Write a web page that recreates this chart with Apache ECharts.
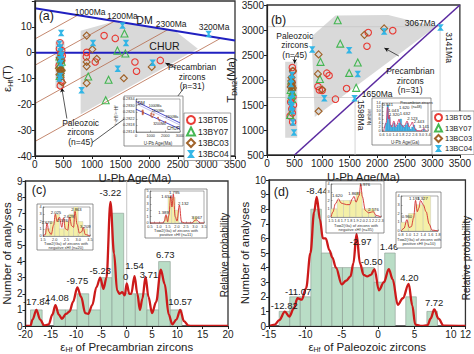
<!DOCTYPE html>
<html><head><meta charset="utf-8">
<script src="https://cdn.jsdelivr.net/npm/echarts@6/dist/echarts.min.js"></script>
<style>html,body{margin:0;padding:0;background:#fff}#c{width:474px;height:354px}</style>
</head><body><div id="c"></div>
<script>
// ---------------- DATA ----------------
// Panel (a): eHf(T) vs U-Pb age
const a_BT05 = [[440,3.8],[430,1.5],[455,-0.5],[470,0.8],[480,-1.2],[445,-12.8],[460,-11],[425,-5],[470,-3],
  [1211,6.6],[1406,5.5],[906,0.1],[900,-1.6],[1056,-3.6],[1750,-3.6],[1778,-7.2],[2194,-3.0]];
const a_BY07 = [[430,-1.5],[450,-2.5],[440,-4.5],[460,-5.8],[435,-9],[445,-7.5],[470,-3.5],
  [1567,7.4],[1444,0.8],[1583,-0.3],[933,-9.2],[1289,-10.5],[1239,-18.4]];
const a_BC03 = [[420,-6],[440,-7],[455,-8],[430,-8.5],[445,-6.5],[470,-6.8],[460,-3],[480,-11.5],[435,-2],[450,-9.5],
  [906,6.6],[1006,1.3],[1083,-2.4],[906,-3.6],[906,-5.3],[906,-11.8],[1556,-9.9],[2044,-5.5]];
const a_BC04 = [[460,7.6],[430,3.5],[445,2],[450,0.5],[465,-1],[440,-2.5],[455,-4],[430,-10],[445,-9],[470,-0.8],
  [1017,3.7],[1533,10.5],[1594,3.7],[1450,-6.2],[2061,-3.9],[817,-14.5],[3039,7.2]];
const a_DM = [[0,17.2],[3500,4.7]];
const a_CHUR = [[0,0],[3500,0]];
const a_evo = [[[0,5.3],[750,14.5]],[[0,-4.9],[1393,12.2]],[[0,-19.7],[2325,8.9]],[[0,-34.4],[3251,5.6]]];
const a_modelAges = ['1000Ma','1200Ma','2300Ma','3200Ma'];
const a_preZone = [[800,8.5],[1400,12.2],[2450,8.45],[2850,1.5],[800,-23.8]];
const a_paleoZone = [[360,4.3],[520,4.3],[520,-13.7],[360,-13.7]];

// Panel (b): TDM2 vs U-Pb age
const b_BT05 = [[460,2250],[470,2180],[455,1950],[440,1900],[470,1660],[430,1560],[480,1500],[450,1420],[460,1340],[420,1280],[465,1160],
  [1837,2948],[2282,2987],[1814,2675],[1086,2136],[1127,2090],[925,1870],[950,1800],[1000,1790],[1242,1616],[1444,1830]];
const b_BY07 = [[440,1990],[450,1860],[430,1800],[460,1760],[445,1700],[420,1300],[455,1620],
  [1283,3195],[1329,2727],[971,2363],[1491,2142],[1647,2350],[1618,1843],[960,2020]];
const b_BC03 = [[470,2180],[440,1980],[455,1880],[430,1860],[460,1800],[450,1950],[445,2050],[470,1840],
  [936,2512],[924,2122],[1768,2903],[2126,3032],[936,1375],[1000,1810]];
const b_BC04 = [[455,2100],[440,2020],[460,1720],[430,1600],[450,1480],[445,1450],[465,1380],[470,1150],[490,950],[435,1920],
  [820,2610],[1491,2597],[1647,2122],[1040,1635],[1589,1635],[2126,2968],[3148,3052]];
const b_oneToOne = [[500,500],[3500,3500]];
const b_refH = [[[0,3067],[3141,3067]],[[0,1650],[1598,1650]]];
const b_refV = [[[3141,500],[3141,3067]],[[1598,500],[1598,1650]]];
const b_preZone = [[809,2870],[1242,3292],[2200,3300],[3062,3065],[866,1258]];
const b_paleoZone = [[330,2363],[549,2363],[549,843],[330,843]];

// Panel (c): eHf of Precambrian zircons
const c_edges = [-19.0,-16.7,-14.4,-12.1,-9.8,-7.5,-5.2,-2.9,-0.6,1.7,4.0,6.3,8.6,10.9];
const c_counts = [1,0,1,1,2,1,3,7,2,2,1,4,1];
const c_curveX = [-20,-19,-18.6,-17.84,-17.1,-16.3,-15.4,-14.7,-14.08,-13.4,-12.8,-12.0,-11.3,-10.6,-9.75,-9.0,-8.2,-7.6,-6.8,-6.0,-5.23,-4.6,-4.0,-3.22,-2.5,-1.9,-1.4,-0.9,-0.4,0,0.5,0.9,1.54,2.1,2.6,3.1,3.71,4.3,5.0,5.8,6.73,7.5,8.3,9.0,9.8,10.57,11.3,12.2,13,20];
const c_curveY = [0,0.02,0.4,1.0,0.4,0.03,0.1,0.7,1.3,0.7,0.45,0.75,0.9,1.5,2.4,1.8,0.8,0.75,1.3,2.4,3.0,2.3,3.0,7.7,4.5,2.2,2.0,2.1,1.9,2.65,2.0,2.0,3.1,2.0,1.0,1.7,3.05,1.8,0.8,1.5,3.5,2.6,0.7,0.1,0.4,1.0,0.3,0.02,0,0];
const c_peaks = [-17.84,-14.08,-9.75,-5.23,-3.22,0,1.54,3.71,6.73,10.57];
const c_peakLabelX = [-17.84,-14.08,-9.75,-5.23,-3.22,-0.2,1.54,4.4,7.6,10.57];
const c_peakLabelY = [1.5,1.75,2.85,3.45,8.3,3.1,3.75,3.2,4.45,1.5];

// Panel (d): eHf of Paleozoic zircons
const d_edges = [-13.6,-12.15,-10.7,-9.25,-7.8,-6.35,-4.9,-3.45,-2.0,-0.55,0.9,2.35,3.8,5.25,6.7,8.15];
const d_counts = [1,2,2,8,5,4,4,4,4,3,5,0,2,0,1];
const d_curveX = [-15,-14.2,-13.6,-12.82,-12.2,-11.6,-11.07,-10.5,-9.9,-9.3,-8.8,-8.44,-8.0,-7.6,-7.2,-6.7,-6.3,-5.8,-5.0,-4.4,-3.8,-3.4,-2.97,-2.5,-2.0,-1.5,-1.0,-0.5,0.1,0.8,1.46,2.0,2.7,3.4,4.2,4.7,5.1,6.0,6.8,7.2,7.72,8.3,9,12];
const d_curveY = [0,0.1,0.4,0.98,0.65,1.2,1.9,1.8,2.6,5.0,7.8,8.85,7.3,6.0,6.0,5.2,4.7,4.0,2.85,3.1,3.4,4.3,6.3,4.3,3.5,3.4,3.5,3.9,2.45,3.0,3.9,3.2,1.45,1.9,2.88,1.4,0.1,0,0.05,0.5,1.13,0.5,0.02,0];
const d_peaks = [-12.82,-11.07,-8.44,-2.97,-0.50,1.46,4.20,7.72];
const d_peakLabelX = [-12.9,-11.0,-8.4,-2.4,-0.9,1.5,4.3,7.7];
const d_peakLabelY = [1.4,2.35,9.3,5.8,4.4,5.45,3.35,1.6];

// Insets
const ic1_edges = [1.6,1.8,2.0,2.2,2.4,2.6,2.8,3.0,3.2,3.4];
const ic1_counts = [1,2,3,1,2,3,4,2,1];
const ic1_x = [1.5,1.6,1.67,1.75,1.85,1.95,2.025,2.1,2.2,2.3,2.376,2.45,2.55,2.629,2.72,2.8,2.863,2.95,3.05,3.15,3.209,3.3,3.5];
const ic1_y = [0,0.2,1.8,0.6,0.2,1.5,3.0,2.0,2.6,1.2,2.5,1.0,0.8,2.6,1.4,1.2,3.4,1.6,0.4,0.6,1.2,0.2,0];
const ic1_peaks = [[1.670,'1.670'],[2.025,'2.025'],[2.376,'2.376'],[2.629,'2.629'],[2.863,'2.863'],[3.209,'3.209']];
const ic1_peakX = [1.66,2.05,2.33,2.6,2.92,3.3];
const ic1_peakY = [1.9,3.3,2.2,2.75,3.6,1.35];

const ic2_edges = [1.3,1.5,1.7,1.9,2.1,2.3,2.9,3.1];
const ic2_counts = [1,4,4,2,0,0,1];
const ic2_x = [0.5,1.2,1.3,1.389,1.48,1.55,1.652,1.72,1.795,1.9,2.0,2.132,2.25,2.4,2.8,3.067,3.3,3.5];
const ic2_y = [0,0,0.3,1.3,0.2,1.2,4.2,2.5,4.5,1.0,0.3,2.8,0.2,0,0,0.5,0,0];
const ic2_peaks = [[1.389,'1.389'],[1.652,'1.652'],[1.795,'1.795'],[2.132,'2.132'],[3.067,'3.067']];
const ic2_peakX = [1.25,1.42,1.85,2.35,3.1];
const ic2_peakY = [1.7,4.2,4.8,3.0,0.9];

const id1_edges = [1.5,1.6,1.7,1.8,1.9,2.0,2.1,2.2,2.3];
const id1_counts = [1,2,2,2,3,1,1,0];
const id1_x = [1.5,1.53,1.57,1.62,1.66,1.7,1.75,1.8,1.84,1.868,1.9,1.95,1.976,2.0,2.05,2.1,2.15,2.176,2.22,2.3];
const id1_y = [0,0.6,1.6,2.2,1.7,1.6,1.5,1.5,2.2,2.5,1.8,2.6,4.0,2.5,0.8,0.5,0.6,0.65,0.2,0];
const id1_peaks = [[1.620,'1.620'],[1.868,'1.868'],[1.976,'1.976'],[2.176,'2.176']];
const id1_peakX = [1.6,1.86,2.04,2.18];
const id1_peakY = [2.6,2.9,3.9,0.95];

const id2_edges = [0.8,1.0,1.2,1.4,1.6];
const id2_counts = [1,2,3,4];
const id2_x = [0.8,0.88,0.96,1.02,1.08,1.14,1.193,1.24,1.28,1.327,1.4,1.48,1.56,1.64,1.8];
const id2_y = [0,0.3,1.3,0.4,0.5,1.5,3.5,2.2,2.6,3.5,3.0,2.2,0.8,0.1,0];
const id2_peaks = [[0.960,'0.960'],[1.193,'1.193'],[1.327,'1.327']];
const id2_peakX = [0.96,1.16,1.38];
const id2_peakY = [1.7,3.75,3.75];

const ib_edges = [0.8,0.9,1.0,1.1,1.2,1.3,1.4,1.5,1.6,1.7,1.8,1.9,2.0,2.1,2.2,2.3,2.4,2.5,2.6,2.7,2.8,2.9,3.0,3.1,3.2];
const ib_counts = [4,13,7,3,2,4,2,3,4,6,3,2,3,4,2,1,2,3,1,0,0,0,0,1];
const ib_x = [0.7,0.85,0.941,1.0,1.043,1.12,1.2,1.32,1.42,1.5,1.62,1.632,1.7,1.8,1.9,2.0,2.123,2.25,2.35,2.443,2.55,2.7,3.0,3.141,3.3];
const ib_y = [0,4,12,6,8,3,2,5,2,3,5.5,6,4,3,2,3,5,2,3,4.5,2,0.2,0,1.2,0];
const ib_peaks = [[0.941,'0.941'],[1.043,'1.043'],[1.320,'1.320'],[1.620,'1.620'],[1.632,'1.632'],[2.123,'2.123'],[2.443,'2.443'],[3.141,'3.141']];
const ib_peakX = [0.95,1.3,1.35,1.95,2.0,2.45,2.85,3.15];
const ib_peakY = [13.3,10.5,8.3,11.8,8.6,6.5,4.8,2.4];

const ia_DM = [[0,0.28325],[3000,0.28195]];
const ia_CHUR = [[0,0.28278],[3000,0.28158]];
const ia_pts = [[450,0.28270],[460,0.28262],[470,0.28255],[455,0.28248],[1000,0.28240],[1100,0.28232],[1500,0.28225],[1600,0.28210],[2000,0.28200],[1050,0.28252],[1200,0.28245]];

// ---------------- STYLE / BUILD ----------------
const FONT = '"Liberation Sans", Arial, sans-serif';
const RED = '#e8322b', GREEN = '#3cb44b', BROWN = '#9c5b1e', CYAN = '#2ab3e6';
const XSYM = 'path://M0,0H10L6.2,5L10,10H0L3.8,5Z';
const chart = echarts.init(document.getElementById('c'), null, {renderer: 'svg'});

const grids = [
  {left:25, top:1, width:210, height:155},
  {left:267, top:1, width:202, height:154},
  {left:25, top:181, width:203, height:152},
  {left:269, top:180, width:200, height:153},
  {left:136, top:99, width:44, height:33},   // 4 inset a
  {left:382, top:103, width:46, height:28},  // 5 inset b
  {left:43, top:207, width:47, height:29},   // 6 inset c1
  {left:150, top:191, width:54, height:32},  // 7 inset c2
  {left:331, top:184, width:50, height:33},  // 8 inset d1
  {left:401, top:196, width:37, height:35},  // 9 inset d2
];
grids.forEach((g,i)=>{ g.show = true; g.borderColor = i<4 ? '#333' : '#555'; g.borderWidth = i<4 ? 1.3 : 0.5; g.backgroundColor = i<4 ? 'transparent' : '#fff'; g.z = i<4 ? 0 : 30; });

function mainAxis(gi, min, max, interval, name, nameGap, fmt) {
  return {
    type:'value', gridIndex:gi, min, max, interval, name, nameLocation:'middle', nameGap,
    nameTextStyle:{fontFamily:FONT, fontSize:11.5, color:'#222', rich:{s:{fontSize:7, fontFamily:FONT, color:'#222', padding:[6,0,0,0]}}},
    axisLine:{show:true, onZero:false, lineStyle:{color:'#222', width:1.2}},
    axisTick:{show:true, inside:false, length:3, lineStyle:{color:'#222'}},
    axisLabel:{fontFamily:FONT, fontSize:10, color:'#222', margin:3, formatter: fmt || (v=>v)},
    splitLine:{show:false}, z: 5
  };
}
function insetAxis(gi, min, max, interval, fmt, name) {
  return {
    type:'value', gridIndex:gi, min, max, interval, name: name||'', nameLocation:'middle', nameGap: 9,
    nameTextStyle:{fontFamily:FONT, fontSize:4.5, color:'#333'},
    axisLine:{show:true, onZero:false, lineStyle:{color:'#555', width:0.5}},
    axisTick:{show:true, inside:true, length:1.5, lineStyle:{color:'#555', width:0.5}},
    axisLabel:{fontFamily:FONT, fontSize:3.8, color:'#333', margin:1.5, formatter: fmt || (v=>v)},
    splitLine:{show:false}, z: 31
  };
}

const xAxes = [
  mainAxis(0, 0, 3500, 500, 'U-Pb Age(Ma)', 16),
  mainAxis(1, 0, 3500, 500, 'U-Pb Age(Ma)', 16),
  mainAxis(2, -20, 20, 5, 'ε{s|Hf} of Precambrian zircons', 14),
  mainAxis(3, -15, 12, 5, 'ε{s|Hf} of Paleozoic zircons', 14),
  insetAxis(4, 0, 3000, 1000, null, 'U-Pb Age(Ma)'),
  insetAxis(5, 0.6, 3.4, 0.4, v=>v.toFixed(1), 'U-Pb Age(Ga)'),
  insetAxis(6, 1.5, 3.5, 0.5, v=>v.toFixed(1)),
  insetAxis(7, 0.5, 3.5, 0.25, v=>v.toFixed(1)),
  insetAxis(8, 1.5, 2.3, 0.1, v=>v.toFixed(1)),
  insetAxis(9, 0.8, 1.8, 0.2, v=>v.toFixed(1)),
];
const yAxes = [
  mainAxis(0, -40, 20, 10, 'ε{s|Hf}(T)', 17, v=> v===20 ? '' : v),
  mainAxis(1, 500, 3500, 500, 'T{s|DM2}(Ma)', 25),
  mainAxis(2, 0, 9, 1, 'Number of analyses', 12),
  mainAxis(3, 0, 10, 1, 'Number of analyses', 12),
  insetAxis(4, 0.2814, 0.2834, 0.0004, v=>v.toFixed(4), '¹⁷⁶Hf/¹⁷⁷Hf'),
  insetAxis(5, 0, 14, 2, null, 'Number'),
  insetAxis(6, 0, 4, 1),
  insetAxis(7, 0, 5, 1),
  insetAxis(8, 0, 4, 1),
  insetAxis(9, 0, 4, 1),
];
xAxes[7].axisLabel.formatter = v => (Math.round(v*100)%50===0) ? v.toFixed(1) : '';
xAxes[5].axisLabel.formatter = v => (Math.abs(Math.round(v*10)%4) === 2) ? v.toFixed(1) : '';

const series = [];
function sIdx(gi){ return {xAxisIndex:gi, yAxisIndex:gi}; }
function polySeries(gi, pts, fill, z) {
  series.push(Object.assign({type:'custom', coordinateSystem:'cartesian2d', silent:true, z: z||1,
    data: pts, encode:{x:0, y:1},
    renderItem: (params, api) => {
      if (params.dataIndex !== 0) return null;
      return {type:'polygon', shape:{points: pts.map(p=>api.coord(p))}, style:{fill}};
    }}, sIdx(gi)));
}
function lineSeries(gi, pts, color, width, z, dash) {
  series.push(Object.assign({type:'line', data: pts, symbol:'none', silent:true, z: z||3,
    lineStyle:{color, width, type: dash||'solid'}, animation:false}, sIdx(gi)));
}
function curveSeries(gi, xs, ys, color, width, z) {
  series.push(Object.assign({type:'line', data: xs.map((x,i)=>[x, ys[i]]), symbol:'none', smooth:0.35, smoothMonotone:'x', silent:true, z: z||4,
    lineStyle:{color, width}, animation:false}, sIdx(gi)));
}
function barsSeries(gi, edges, counts, fill, stroke, z, lw) {
  series.push(Object.assign({type:'custom', coordinateSystem:'cartesian2d', silent:true, z: z||2,
    data: counts.map((c,i)=>[edges[i], edges[i+1], c]), encode:{x:[0,1], y:2},
    renderItem: (params, api) => {
      const p0 = api.coord([api.value(0), 0]);
      const p1 = api.coord([api.value(1), api.value(2)]);
      if (api.value(2) <= 0) return null;
      return {type:'rect', shape:{x:p0[0], y:p1[1], width:p1[0]-p0[0], height:p0[1]-p1[1]}, style:{fill, stroke, lineWidth: lw||0.6}};
    }}, sIdx(gi)));
}
function scatter(gi, name, data, symbol, color, size, z, filled) {
  series.push(Object.assign({type:'scatter', name, data, symbol, symbolSize:size,
    itemStyle:{color: filled ? color : 'rgba(255,255,255,0)', borderColor: color, borderWidth: filled?0:1.1, opacity: 0.95},
    z: z||6, animation:false}, sIdx(gi)));
}
function texts(gi, items, z) {
  series.push(Object.assign({type:'custom', coordinateSystem:'cartesian2d', silent:true, z: z||10, animation:false,
    data: items.map(it => it.pos), encode:{x:0, y:1},
    renderItem: (params, api) => {
      const it = items[params.dataIndex];
      const p = api.coord(it.pos);
      return {type:'text', x:p[0], y:p[1], rotation: (it.rotate||0)*Math.PI/180,
        style:{text: it.text, fontFamily: FONT, fontSize: it.size||9, fill: it.color||'#1a1a1a',
          align:'center', verticalAlign:'middle', lineHeight: it.lh || Math.round((it.size||9)*1.15)}};
    }}, sIdx(gi)));
}
function arrows(gi, segs, z) {
  series.push(Object.assign({type:'line', data:[], silent:true, z: z||9,
    markLine:{silent:true, symbol:['none','arrow'], symbolSize:[3.5,4.5], animation:false,
      lineStyle:{color:'#111', width:0.7, type:'solid'}, label:{show:false},
      data: segs.map(s=>[{coord:s[0]},{coord:s[1]}])}}, sIdx(gi)));
}

// ---- Panel a ----
polySeries(0, a_preZone, '#d9d9d9', 1);
polySeries(0, a_paleoZone, '#d9d9d9', 1);
a_evo.forEach(l => lineSeries(0, l, '#b5694a', 0.8, 2));
lineSeries(0, a_DM, '#2020c0', 2, 3);
lineSeries(0, a_CHUR, '#2020c0', 2, 3);
scatter(0, '13BT05', a_BT05, 'circle', RED, 6.5);
scatter(0, '13BY07', a_BY07, 'triangle', GREEN, 7);
scatter(0, '13BC03', a_BC03, 'diamond', BROWN, 7);
scatter(0, '13BC04', a_BC04, XSYM, CYAN, 6.5, 7, true);
texts(0, [
  {pos:[200,14.3], text:'(a)', size:12.5},
  {pos:[966,15.7], text:a_modelAges[0], size:8.5},
  {pos:[1530,14.3], text:a_modelAges[1], size:8.5},
  {pos:[2383,11.2], text:a_modelAges[2], size:8.5},
  {pos:[3133,10.0], text:a_modelAges[3], size:8.5},
  {pos:[1917,12.8], text:'DM', size:10.5},
  {pos:[2267,2.4], text:'CHUR', size:10.5},
  {pos:[2750,-9.4], text:'Precambrian\nzircons\n(n=31)', size:8.5, lh:9.5},
  {pos:[800,-30.8], text:'Paleozoic\nzircons\n(n=45)', size:8.5, lh:9.5},
]);
arrows(0, [[[2467,-6.0],[2283,-4.0]], [[2633,-12.9],[2250,-24.2]], [[560,-25.5],[470,-13.6]], [[1000,-34.8],[1800,-21.8]]]);

// ---- Panel b ----
polySeries(1, b_preZone, '#d9d9d9', 1);
polySeries(1, b_paleoZone, '#d9d9d9', 1);
b_refH.forEach(l => lineSeries(1, l, '#c8c8c8', 0.8, 2));
b_refV.forEach(l => lineSeries(1, l, '#c8c8c8', 0.8, 2));
lineSeries(1, b_oneToOne, '#5a2aa0', 1.6, 3);
scatter(1, '13BT05', b_BT05, 'circle', RED, 6.5);
scatter(1, '13BY07', b_BY07, 'triangle', GREEN, 7);
scatter(1, '13BC03', b_BC03, 'diamond', BROWN, 7);
scatter(1, '13BC04', b_BC04, XSYM, CYAN, 6.5, 7, true);
texts(1, [
  {pos:[210,3200], text:'(b)', size:12.5},
  {pos:[503,2700], text:'Paleozoic\nzircons\n(n=45)', size:8.5, lh:9.5},
  {pos:[2600,1990], text:'Precambrian\nzircons\n(n=31)', size:8.5, lh:9.5},
  {pos:[2780,3145], text:'3067Ma', size:8.5},
  {pos:[3300,2650], text:'3141Ma', size:8.5, rotate:-90},
  {pos:[2000,1730], text:'1650Ma', size:8.5},
  {pos:[1700,1300], text:'1598Ma', size:8.5, rotate:-90},
]);
arrows(1, [[[503,2470],[503,2330]], [[2392,2480],[2130,2640]]]);

// ---- Panel c ----
barsSeries(2, c_edges, c_counts, '#b9ddc6', '#8a9a90', 2, 0.6);
lineSeries(2, [[0,0],[0,9]], '#c4c4c4', 1, 1);
curveSeries(2, c_curveX, c_curveY, '#cc1a1a', 2.3, 4);
texts(2, c_peaks.map((p,i)=>({pos:[c_peakLabelX[i], c_peakLabelY[i]], text: String(p), size:9.5})));
texts(2, [{pos:[-17.3,8.45], text:'(c)', size:12.5}]);

// ---- Panel d ----
barsSeries(3, d_edges, d_counts, '#b9ddc6', '#8a9a90', 2, 0.6);
lineSeries(3, [[0,0],[0,10]], '#c4c4c4', 1, 1);
curveSeries(3, d_curveX, d_curveY, '#cc1a1a', 2.3, 4);
texts(3, d_peaks.map((p,i)=>({pos:[d_peakLabelX[i], d_peakLabelY[i]], text: p.toFixed(2), size:9.5})));
texts(3, [{pos:[-13.3,9.2], text:'(d)', size:12.5}]);

// ---- Insets ----
lineSeries(4, ia_DM, '#2020c0', 0.8, 32);
lineSeries(4, ia_CHUR, '#2020c0', 0.8, 32);
lineSeries(4, [[0,0.28312],[3000,0.28182]], '#8080e0', 0.5, 32);
series.push(Object.assign({type:'scatter', data: ia_pts, symbolSize:2, itemStyle:{color:'#c05030'}, z:33, silent:true}, sIdx(4)));
texts(4, [{pos:[350,0.2831], text:'DM', size:4.5},{pos:[1300,0.28295], text:'1000Ma', size:3.5},{pos:[1500,0.2827], text:'1200Ma', size:3.5},{pos:[2450,0.2823], text:'2300Ma', size:3.5},{pos:[1600,0.2819], text:'3200Ma', size:3.5},{pos:[2550,0.2816], text:'CHUR', size:4.5}], 34);
barsSeries(5, ib_edges, ib_counts, '#3aa8dc', '#3aa8dc', 32, 0.3);
curveSeries(5, ib_x, ib_y, '#d43a6a', 0.9, 33);
texts(5, ib_peaks.map((p,i)=>({pos:[ib_peakX[i], ib_peakY[i]], text:p[1], size:4.2})), 34);
texts(5, [{pos:[2.7,13.0], text:'Precambrian zircons\n(n=48)', size:3.6, lh:4}], 34);
barsSeries(6, ic1_edges, ic1_counts, '#f4f0a8', '#aaa', 32, 0.3);
curveSeries(6, ic1_x, ic1_y, '#d42a2a', 0.9, 33);
texts(6, ic1_peaks.map((p,i)=>({pos:[ic1_peakX[i], ic1_peakY[i]], text:p[1], size:4.2})), 34);
barsSeries(7, ic2_edges, ic2_counts, '#f4f0a8', '#aaa', 32, 0.3);
curveSeries(7, ic2_x, ic2_y, '#d42a2a', 0.9, 33);
texts(7, ic2_peaks.map((p,i)=>({pos:[ic2_peakX[i], ic2_peakY[i]], text:p[1], size:4.2})), 34);
barsSeries(8, id1_edges, id1_counts, '#f4f0a8', '#aaa', 32, 0.3);
curveSeries(8, id1_x, id1_y, '#d42a2a', 0.9, 33);
texts(8, id1_peaks.map((p,i)=>({pos:[id1_peakX[i], id1_peakY[i]], text:p[1], size:4.2})), 34);
barsSeries(9, id2_edges, id2_counts, '#f4f0a8', '#aaa', 32, 0.3);
curveSeries(9, id2_x, id2_y, '#d42a2a', 0.9, 33);
texts(9, id2_peaks.map((p,i)=>({pos:[id2_peakX[i], id2_peakY[i]], text:p[1], size:4.2})), 34);

const legendStyle = (left, top, fs, iw) => ({
  show:true, orient:'vertical', left, top, itemWidth:iw, itemHeight:iw, itemGap:1.5,
  padding:[2,2,2,2], borderColor:'#666', borderWidth:0.6, backgroundColor:'#fff',
  textStyle:{fontFamily:FONT, fontSize:fs, color:'#222', padding:[0,0,0,-2]},
  data:['13BT05','13BY07','13BC03','13BC04'], selectedMode:false, z:40
});

const insetBoxes = [[124,96,59,50],[372,98,59,47],[37,204,56,46],[145,189,62,49],[326,181,58,52],[396,192,45,56]];
const graphic = insetBoxes.map(b => ({type:'rect', shape:{x:b[0], y:b[1], width:b[2], height:b[3]}, style:{fill:'#fff', stroke:'#666', lineWidth:0.7}, z:20, silent:true}));
const caption = (x, y, txt) => ({type:'text', x, y, style:{text:txt, font:'4px '+FONT, fill:'#333', textAlign:'center', textVerticalAlign:'top'}, z:40, silent:true});
graphic.push(caption(66, 241, 'T\u1D05\u1D0D2(Ga) of zircons with\nnegative \u03B5Hf (n=20)'));
graphic.push(caption(176, 228, 'T\u1D05\u1D0D2(Ga) of zircons with\npositive \u03B5Hf (n=11)'));
graphic.push(caption(356, 223, 'T\u1D05\u1D0D2(Ga) of zircons with\nnegative \u03B5Hf (n=35)'));
graphic.push(caption(419, 237, 'T\u1D05\u1D0D2(Ga) of zircons with\npositive \u03B5Hf (n=10)'));
graphic.push({type:'text', x:224, y:255, rotation:Math.PI/2, style:{text:'Relative probability', font:'10px '+FONT, fill:'#222', textAlign:'center', textVerticalAlign:'middle'}, z:40, silent:true});
graphic.push({type:'text', x:466, y:258, rotation:Math.PI/2, style:{text:'Relative probability', font:'10px '+FONT, fill:'#222', textAlign:'center', textVerticalAlign:'middle'}, z:40, silent:true});

chart.setOption({
  animation:false,
  grid: grids, xAxis: xAxes, yAxis: yAxes, series,
  legend:[legendStyle(184,113,8.5,8), legendStyle(432,111,7.5,7)],
  graphic
});
</script></body></html>
